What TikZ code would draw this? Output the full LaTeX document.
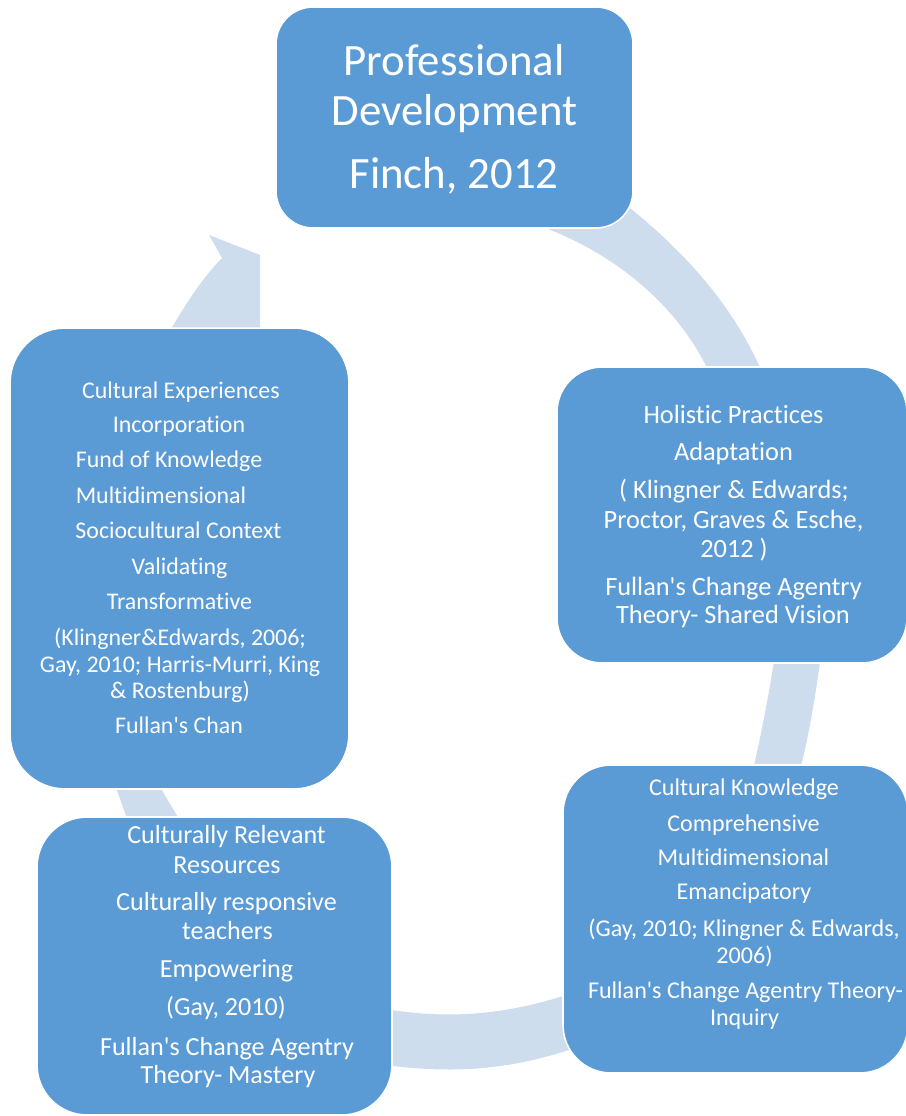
\documentclass[tikz,border=0pt]{standalone}
\usepackage{fontspec}
\setmainfont{Carlito}[Ligatures={TeX,NoCommon}]
\definecolor{boxblue}{RGB}{91,155,213}
\definecolor{bandblue}{RGB}{206,221,238}
\begin{document}
\begin{tikzpicture}[x=0.02cm,y=-0.02cm,
  box/.style={draw=white, line width=0.9pt, fill=boxblue, inner sep=0pt},
  band/.style={fill=bandblue, draw=none},
  lbl/.style={text=white, anchor=base, inner sep=0pt},
  fbig/.style={font=\fontsize{25.5pt}{30pt}\selectfont},
  fleft/.style={font=\fontsize{13.6pt}{16pt}\selectfont},
  fright/.style={font=\fontsize{15pt}{18pt}\selectfont},
  flr/.style={font=\fontsize{13.7pt}{16pt}\selectfont},
  fll/.style={font=\fontsize{14.85pt}{17pt}\selectfont}]
\useasboundingbox (0,0) rectangle (906,1116);

% cycle arrows (drawn first, boxes sit on top of their ends)
\fill[band] (620,200) .. controls (690,255) and (735,310) .. (762,372)
  -- (709,372) .. controls (680,310) and (620,255) .. (540,226) -- cycle;
\fill[band] (775,655) .. controls (768,700) and (760,740) .. (752,774)
  -- (799,774) .. controls (808,740) and (815,700) .. (821,655) -- cycle;
\fill[band] (385,1009) .. controls (440,1018) and (500,1018) .. (575,992)
  -- (578,1047) .. controls (500,1074) and (440,1072) .. (385,1065) -- cycle;
\fill[band] (114,782) -- (157,782) -- (182,824) -- (129,824) -- cycle;
\fill[band] (168,334) .. controls (185,305) and (203,277) .. (222,258)
  -- (209,235) -- (260,255) -- (260,334) -- cycle;

% boxes
\node[box, minimum width=7.14cm, minimum height=4.42cm, rounded corners=0.74cm] (pd) at (454.5,117.5) {};
\node[box, minimum width=7.0cm, minimum height=5.92cm, rounded corners=0.9cm] (hp) at (732,515) {};
\node[box, minimum width=6.9cm, minimum height=6.16cm, rounded corners=0.96cm] (ck) at (735.5,919) {};
\node[box, minimum width=7.1cm, minimum height=5.96cm, rounded corners=1.0cm] (cr) at (214.5,966) {};
\node[box, minimum width=6.78cm, minimum height=9.22cm, rounded corners=1.1cm] (ce) at (179.5,558.5) {};

% top box text
\node[lbl, fbig] (pd1) at (454,75) {Professional};
\node[lbl, fbig] (pd2) at (454.5,125) {Development};
\node[lbl, fbig] (pd3) at (454,188) {Finch, 2012};

% left box text
\node[lbl, fleft] (ce1) at (181,398) {Cultural Experiences};
\node[lbl, fleft] (ce2) at (179,432) {Incorporation};
\node[lbl, fleft] (ce3) at (169,467) {Fund of Knowledge};
\node[lbl, fleft] (ce4) at (161,503) {Multidimensional};
\node[lbl, fleft] (ce5) at (178.5,538) {Sociocultural Context};
\node[lbl, fleft] (ce6) at (179.5,574) {Validating};
\node[lbl, fleft] (ce7) at (179.5,609) {Transformative};
\node[lbl, fleft] (ce8) at (180,645) {(Klingner\&Edwards, 2006;};
\node[lbl, fleft] (ce9) at (180,672) {Gay, 2010; Harris-Murri, King};
\node[lbl, fleft] (ce10) at (180,698) {\& Rostenburg)};
\node[lbl, fleft] (ce11) at (179,733) {Fullan\textquotesingle s Chan};

% right box text
\node[lbl, fright] (hp1) at (733.5,423) {Holistic Practices};
\node[lbl, fright] (hp2) at (733.5,460) {Adaptation};
\node[lbl, fright] (hp3) at (734,498) {( Klingner \& Edwards;};
\node[lbl, fright] (hp4) at (733.5,528) {Proctor, Graves \& Esche,};
\node[lbl, fright] (hp5) at (734,557) {2012 )};
\node[lbl, fright] (hp6) at (733.5,595) {Fullan\textquotesingle s Change Agentry};
\node[lbl, fright] (hp7) at (733,623) {Theory- Shared Vision};

% lower right box text
\node[lbl, flr] (ck1) at (744,795) {Cultural Knowledge};
\node[lbl, flr] (ck2) at (743.5,831) {Comprehensive};
\node[lbl, flr] (ck3) at (743.5,865) {Multidimensional};
\node[lbl, flr] (ck4) at (744,899) {Emancipatory};
\node[lbl, flr] (ck5) at (744,936) {(Gay, 2010; Klingner \& Edwards,};
\node[lbl, flr] (ck6) at (744.5,963) {2006)};
\node[lbl, flr] (ck7) at (745.5,998) {Fullan\textquotesingle s Change Agentry Theory-};
\node[lbl, flr] (ck8) at (744.5,1025) {Inquiry};

% lower left box text
\node[lbl, fll] (cr1) at (226.5,843) {Culturally Relevant};
\node[lbl, fll] (cr2) at (227,873) {Resources};
\node[lbl, fll] (cr3) at (226.5,910) {Culturally responsive};
\node[lbl, fll] (cr4) at (227.5,939) {teachers};
\node[lbl, fll] (cr5) at (226.5,977) {Empowering};
\node[lbl, fll] (cr6) at (226,1015) {(Gay, 2010)};
\node[lbl, fll] (cr7) at (227,1055) {Fullan\textquotesingle s Change Agentry};
\node[lbl, fll] (cr8) at (228,1083) {Theory- Mastery};
\end{tikzpicture}
\end{document}
